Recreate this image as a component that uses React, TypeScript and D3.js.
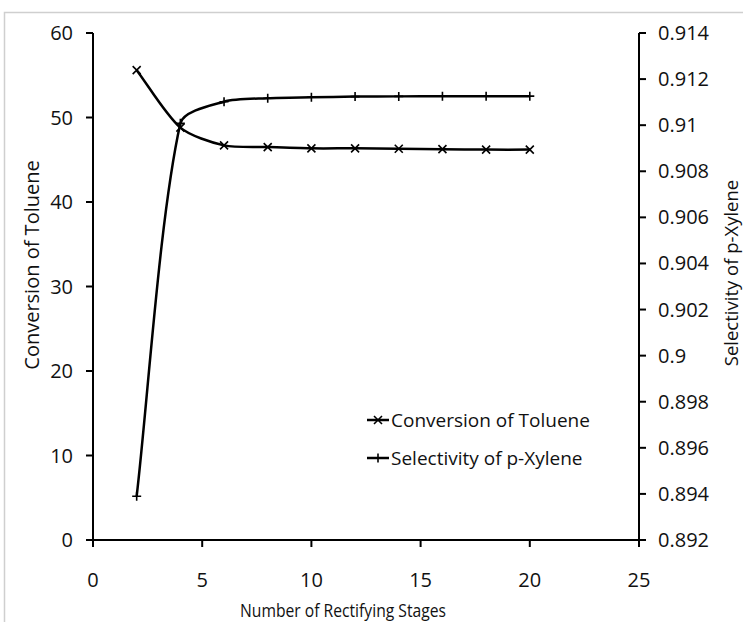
import React, { useMemo } from 'react';
import * as d3 from 'd3';

const W = 743;
const H = 622;
const PLOT = { left: 93, right: 639, top: 33, bottom: 540 };

// data
const stages = [2, 4, 6, 8, 10, 12, 14, 16, 18, 20];
const conversion = [55.6, 48.8, 46.7, 46.5, 46.35, 46.35, 46.3, 46.25, 46.2, 46.2];
const selectivity = [0.8939, 0.91008, 0.91102, 0.91117, 0.91121, 0.91124, 0.91125, 0.91126, 0.91126, 0.91126];

const xTicks = [0, 5, 10, 15, 20, 25];
const yLeftTicks = [0, 10, 20, 30, 40, 50, 60];
const yRightTicks = [0.892, 0.894, 0.896, 0.898, 0.9, 0.902, 0.904, 0.906, 0.908, 0.91, 0.912, 0.914];

const FONT = '"Open Sans", "DejaVu Sans", sans-serif';
const TEXT = '#111';

// Excel-style smoothed line: tangent follows the neighbours, arm length follows the segment
function smoothPath(pts: [number, number][], k = 0.26) {
  const path = d3.path();
  const n = pts.length;
  const tangent = (i: number): [number, number] => {
    const a = pts[Math.max(0, i - 1)];
    const b = pts[Math.min(n - 1, i + 1)];
    const dx = b[0] - a[0];
    const dy = b[1] - a[1];
    const len = Math.hypot(dx, dy) || 1;
    return [dx / len, dy / len];
  };
  path.moveTo(pts[0][0], pts[0][1]);
  for (let i = 0; i < n - 1; i++) {
    const p = pts[i];
    const q = pts[i + 1];
    const d = Math.hypot(q[0] - p[0], q[1] - p[1]) * k;
    const t0 = tangent(i);
    const t1 = tangent(i + 1);
    path.bezierCurveTo(p[0] + t0[0] * d, p[1] + t0[1] * d, q[0] - t1[0] * d, q[1] - t1[1] * d, q[0], q[1]);
  }
  return path.toString();
}

function Cross({ x, y }: { x: number; y: number }) {
  const s = 4;
  return (
    <path d={`M${x - s},${y - s}L${x + s},${y + s}M${x - s},${y + s}L${x + s},${y - s}`} stroke="#000" strokeWidth={1.6} />
  );
}

function Plus({ x, y }: { x: number; y: number }) {
  const s = 4.5;
  return (
    <path d={`M${x - s},${y}L${x + s},${y}M${x},${y - s}L${x},${y + s}`} stroke="#000" strokeWidth={1.6} />
  );
}

export default function App() {
  const x = useMemo(() => d3.scaleLinear().domain([0, 25]).range([PLOT.left, PLOT.right]), []);
  const yL = useMemo(() => d3.scaleLinear().domain([0, 60]).range([PLOT.bottom, PLOT.top]), []);
  const yR = useMemo(() => d3.scaleLinear().domain([0.892, 0.914]).range([PLOT.bottom, PLOT.top]), []);

  const convPts: [number, number][] = stages.map((s, i) => [x(s), yL(conversion[i])]);
  const selPts: [number, number][] = stages.map((s, i) => [x(s), yR(selectivity[i])]);

  return (
    <svg
      width={W}
      height={H}
      viewBox={`0 0 ${W} ${H}`}
      style={{ position: 'absolute', left: 0, top: 0, background: '#fff' }}
      fontFamily={FONT}
    >
      {/* outer chart frame (cut off at right/bottom) */}
      <path d={`M4.5,${H}V12.5H${W}`} fill="none" stroke="#cfcfcf" strokeWidth={1.5} />

      {/* series */}
      <path d={smoothPath(convPts)} fill="none" stroke="#000" strokeWidth={2.5} />
      <path d={smoothPath(selPts)} fill="none" stroke="#000" strokeWidth={2.5} />
      {convPts.map(([cx, cy], i) => <Cross key={'c' + i} x={cx} y={cy} />)}
      {selPts.map(([cx, cy], i) => <Plus key={'s' + i} x={cx} y={cy} />)}

      {/* x axis */}
      <line x1={PLOT.left} x2={PLOT.right} y1={PLOT.bottom} y2={PLOT.bottom} stroke="#000" strokeWidth={2} />
      {xTicks.map((t) => (
        <g key={t} transform={`translate(${x(t)},${PLOT.bottom})`}>
          <line y2={7} stroke="#000" strokeWidth={2} />
          <text y={47} textAnchor="middle" fontSize={20} fill={TEXT}>{t}</text>
        </g>
      ))}
      <text x={240} y={617} fontSize={18} fill={TEXT} textLength={206} lengthAdjust="spacingAndGlyphs">
        Number of Rectifying Stages
      </text>

      {/* left axis */}
      <line x1={PLOT.left} x2={PLOT.left} y1={PLOT.top} y2={PLOT.bottom} stroke="#000" strokeWidth={2} />
      {yLeftTicks.map((t) => (
        <g key={t} transform={`translate(${PLOT.left},${yL(t)})`}>
          <line x2={-7} stroke="#000" strokeWidth={2} />
          <text x={-20} dy="0.35em" textAnchor="end" fontSize={20} fill={TEXT}>{t}</text>
        </g>
      ))}
      <text transform="translate(39,265) rotate(-90)" textAnchor="middle" fontSize={20} fill={TEXT}>Conversion of Toluene</text>

      {/* right axis */}
      <line x1={PLOT.right} x2={PLOT.right} y1={PLOT.top} y2={PLOT.bottom} stroke="#000" strokeWidth={2} />
      {yRightTicks.map((t) => (
        <g key={t} transform={`translate(${PLOT.right},${yR(t)})`}>
          <line x2={7} stroke="#000" strokeWidth={2} />
          <text x={19} dy="0.35em" textAnchor="start" fontSize={20} fill={TEXT}>{d3.format('~g')(t)}</text>
        </g>
      ))}
      <text transform="translate(738,273) rotate(-90)" textAnchor="middle" fontSize={18.5} fill={TEXT}>Selectivity of p-Xylene</text>

      {/* legend */}
      <g>
        <line x1={367} x2={389} y1={420} y2={420} stroke="#000" strokeWidth={2.5} />
        <Cross x={378} y={420} />
        <text x={391} y={420} dy="0.35em" fontSize={19} fill={TEXT}>Conversion of Toluene</text>
        <line x1={367} x2={389} y1={458} y2={458} stroke="#000" strokeWidth={2.5} />
        <Plus x={378} y={458} />
        <text x={391} y={458} dy="0.35em" fontSize={19} fill={TEXT}>Selectivity of p-Xylene</text>
      </g>
    </svg>
  );
}
